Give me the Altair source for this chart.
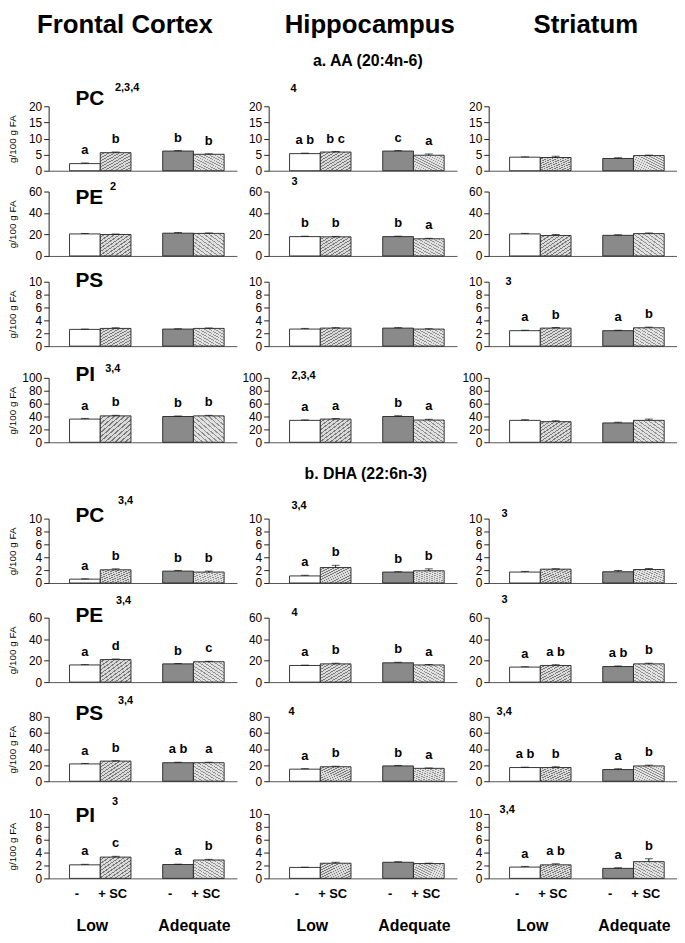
import altair as alt
import pandas as pd

FONT = "Liberation Sans"

regions = ["Frontal Cortex", "Hippocampus", "Striatum"]
groups = ["Low", "Adequate"]
treatments = ["-", "+ SC"]
bar_ids = ["b1", "b2", "b3", "b4"]
section_titles = ["a. AA (20:4n-6)", "b. DHA (22:6n-3)"]
lipids = ["PC", "PE", "PS", "PI", "PC", "PE", "PS", "PI"]
y_max = [20, 60, 10, 100, 10, 60, 80, 10]
y_ticks = [
    [0, 5, 10, 15, 20],
    [0, 20, 40, 60],
    [0, 2, 4, 6, 8, 10],
    [0, 20, 40, 60, 80, 100],
    [0, 2, 4, 6, 8, 10],
    [0, 20, 40, 60],
    [0, 20, 40, 60, 80],
    [0, 2, 4, 6, 8, 10],
]

# means per row: [Frontal Cortex, Hippocampus, Striatum], each [Low -, Low +SC, Adequate -, Adequate +SC]
aa_pc = [[2.2, 5.6, 6.1, 5.1], [5.3, 5.8, 6.1, 4.8], [4.2, 4.1, 3.8, 4.7]]
aa_pe = [[20.5, 20.0, 21.2, 21.0], [18.0, 17.8, 18.0, 16.0], [20.5, 19.0, 19.2, 20.8]]
aa_ps = [[2.6, 2.75, 2.65, 2.75], [2.65, 2.8, 2.8, 2.65], [2.4, 2.8, 2.4, 2.85]]
aa_pi = [[36, 41, 40, 41], [34, 36, 40, 34.5], [34, 32, 30, 34]]
dha_pc = [[0.6, 2.05, 1.85, 1.7], [1.1, 2.4, 1.7, 1.9], [1.7, 2.15, 1.75, 2.1]]
dha_pe = [[16, 21, 17, 19], [15.5, 17, 18, 16], [14, 15.5, 14.5, 17]]
dha_ps = [[21.5, 25, 23, 23], [15, 18, 19, 16], [17, 17, 14.5, 19]]
dha_pi = [[2.1, 3.3, 2.15, 2.85], [1.7, 2.35, 2.5, 2.3], [1.75, 2.1, 1.55, 2.6]]
means = [aa_pc, aa_pe, aa_ps, aa_pi, dha_pc, dha_pe, dha_ps, dha_pi]

aa_pc_se = [[0.2, 0.2, 0.15, 0.15], [0.15, 0.15, 0.15, 0.4], [0.1, 0.4, 0.2, 0.15]]
aa_pe_se = [[0.4, 0.4, 0.6, 0.4], [0.4, 0.4, 0.4, 0.4], [0.5, 1.0, 0.5, 0.6]]
aa_ps_se = [[0.05, 0.1, 0.05, 0.07], [0.1, 0.07, 0.07, 0.05], [0.07, 0.1, 0.07, 0.1]]
aa_pi_se = [[1, 0.8, 0.8, 0.8], [0.8, 0.8, 1.2, 1.2], [1, 1.5, 1, 2]]
dha_pc_se = [[0.05, 0.15, 0.1, 0.15], [0.1, 0.35, 0.05, 0.3], [0.1, 0.05, 0.2, 0.15]]
dha_pe_se = [[0.3, 0.5, 0.3, 0.4], [0.3, 0.6, 0.5, 0.4], [0.3, 0.8, 0.6, 0.6]]
dha_ps_se = [[0.6, 0.5, 0.6, 0.6], [0.6, 0.6, 0.6, 0.5], [0.5, 1.0, 1.0, 1.0]]
dha_pi_se = [[0.08, 0.12, 0.06, 0.1], [0.03, 0.15, 0.08, 0.06], [0.1, 0.15, 0.08, 0.45]]
sems = [aa_pc_se, aa_pe_se, aa_ps_se, aa_pi_se, dha_pc_se, dha_pe_se, dha_ps_se, dha_pi_se]

NONE4 = ["", "", "", ""]
letters = [
    [["a", "b", "b", "b"], ["a b", "b c", "c", "a"], NONE4],
    [NONE4, ["b", "b", "b", "a"], NONE4],
    [NONE4, NONE4, ["a", "b", "a", "b"]],
    [["a", "b", "b", "b"], ["a", "a", "b", "a"], NONE4],
    [["a", "b", "b", "b"], ["a", "b", "b", "b"], NONE4],
    [["a", "d", "b", "c"], ["a", "b", "b", "a"], ["a", "a b", "a b", "b"]],
    [["a", "b", "a b", "a"], ["a", "b", "b", "a"], ["a b", "b", "a", "b"]],
    [["a", "c", "a", "b"], NONE4, ["a", "a b", "a", "b"]],
]

superscripts = [
    ["2,3,4", "4", ""],
    ["2", "3", ""],
    ["", "", "3"],
    ["3,4", "2,3,4", ""],
    ["3,4", "3,4", "3"],
    ["3,4", "4", "3"],
    ["3,4", "4", "3,4"],
    ["3", "", "3,4"],
]

# ---- layout / style (pixels) ----
W, H = 190, 65
COL_GAP = 32
gaps = [21, 26, 32, 77, 35, 35, 33]
label_base = [-1, 13, 5, 3, 3, 4, 3, 8]
sup_pos = [
    [(67, -15), (22, -14), None],
    [(62, -2), (23, -7), None],
    [None, None, (17, 3)],
    [(57, -6), (23, 1), None],
    [(70, -15), (23, -10), (13, -2)],
    [(68, -14), (23, -2), (13, -15)],
    [(70, -13), (20, -2), (8, -2)],
    [(64, -9), None, (11, -1)],
]


def stripes(light, dark, n, frac_dark, x1, y1, x2, y2):
    stops = []
    for i in range(n):
        a = i / n
        b = (i + 1 - frac_dark) / n
        e = (i + 1) / n
        stops += [alt.GradientStop(offset=a, color=light), alt.GradientStop(offset=b, color=light),
                  alt.GradientStop(offset=b, color=dark), alt.GradientStop(offset=e, color=dark)]
    return alt.LinearGradient(gradient="linear", stops=stops, x1=x1, y1=y1, x2=x2, y2=y2)


bar_fill = [
    "#ffffff",
    stripes("#dadada", "#7a7a7a", 12, 0.33, 0, 0, 1, 1),
    "#8a8a8a",
    stripes("#e2e2e2", "#929292", 12, 0.3, 0, 1, 1, 0),
]

records = []
for r in range(8):
    for c in range(3):
        for k in range(4):
            records.append(dict(
                row=r, region=regions[c], group=groups[k // 2], treat=treatments[k % 2],
                bar=bar_ids[k], value=means[r][c][k], top=means[r][c][k] + sems[r][c][k],
                letter=letters[r][c][k]))
df = pd.DataFrame(records)


def txt(text, x, y, size, weight="bold", align="left", baseline="alphabetic", dx=0):
    return alt.Chart(pd.DataFrame({"t": [text]})).mark_text(
        font=FONT, fontSize=size, fontWeight=weight, align=align, baseline=baseline,
        color="black", dx=dx
    ).encode(text="t:N", x=alt.value(x), y=alt.value(y))


x_enc = alt.X("group:N", title=None,
              scale=alt.Scale(domain=groups, paddingInner=0.3404, paddingOuter=0.1809, align=0.62),
              axis=alt.Axis(labels=False, ticks=False, grid=False, domainColor="#555555", domainWidth=1))
xo_enc = alt.XOffset("treat:N", scale=alt.Scale(domain=treatments, paddingInner=0, paddingOuter=0))


def panel(r, c):
    sub = df[(df.row == r) & (df.region == regions[c])]
    base = alt.Chart(sub)
    axis = alt.Axis(values=y_ticks[r], tickCount=len(y_ticks[r]), grid=False,
                    domainColor="#222222", tickColor="#222222",
                    labelFontSize=12, labelColor="black", labelFont=FONT, tickSize=5,
                    labelPadding=2, minExtent=28, maxExtent=28, labelOverlap=False,
                    labelFlush=False, labelBaseline="middle",
                    titleFontSize=10, titleFontWeight="normal", titleFont=FONT,
                    titlePadding=3, titleColor="black")
    ttl = "g/100 g FA" if c == 0 else None
    yscale = alt.Scale(domain=[0, y_max[r]], nice=False, zero=True)
    y_val = alt.Y("value:Q", title=ttl, scale=yscale, axis=axis)
    y_top = alt.Y("top:Q", title=ttl, scale=yscale, axis=axis)
    layers = []
    for k, bid in enumerate(bar_ids):
        layers.append(base.transform_filter(alt.datum.bar == bid).mark_bar(
            stroke="#222222", strokeWidth=0.9, fill=bar_fill[k]
        ).encode(x=x_enc, xOffset=xo_enc, y=y_val))
    rules = base.mark_rule(color="#111111", strokeWidth=1).encode(
        x=x_enc, xOffset=xo_enc, y=y_val, y2="top:Q")
    caps = base.mark_tick(orient="horizontal", size=8, thickness=1, color="#111111").encode(
        x=x_enc, xOffset=xo_enc, y=y_top)
    lets = base.mark_text(font=FONT, fontSize=13, fontWeight="bold", baseline="alphabetic",
                          dy=-9, color="black").encode(
        x=x_enc, xOffset=xo_enc, y=y_top, text="letter:N")
    layers += [rules, caps, lets]
    if c == 0:
        layers.append(txt(lipids[r], 27, label_base[r], 21))
    if superscripts[r][c]:
        sx, sy = sup_pos[r][c]
        layers.append(txt(superscripts[r][c], sx, sy, 11))
    if r == 7:
        foot = pd.DataFrame({"group": [g for g in groups for _ in treatments],
                             "treat": [t for _ in groups for t in treatments]})
        fb = alt.Chart(foot)
        layers.append(fb.transform_filter(alt.datum.treat == "-").mark_text(
            font=FONT, fontSize=13, fontWeight="bold", baseline="middle", dx=-8, color="black"
        ).encode(x=x_enc, xOffset=xo_enc, y=alt.value(81), text="treat:N"))
        layers.append(fb.transform_filter(alt.datum.treat == "+ SC").mark_text(
            font=FONT, fontSize=13, fontWeight="bold", baseline="middle", dx=-3, color="black"
        ).encode(x=x_enc, xOffset=xo_enc, y=alt.value(81), text="treat:N"))
        gl = pd.DataFrame({"group": groups})
        layers.append(alt.Chart(gl[gl.group == "Low"]).mark_text(
            font=FONT, fontSize=16, fontWeight="bold", baseline="middle", dx=-8, color="black"
        ).encode(x=x_enc, y=alt.value(113), text="group:N"))
        layers.append(alt.Chart(gl[gl.group == "Adequate"]).mark_text(
            font=FONT, fontSize=16, fontWeight="bold", baseline="middle", dx=1, color="black"
        ).encode(x=x_enc, y=alt.value(113), text="group:N"))
    return alt.layer(*layers).properties(width=W, height=H)


def cell(h, texts):
    if not texts:
        texts = [txt("", 0, 0, 10)]
    return alt.layer(*texts).properties(width=W, height=h)


cells = []
# header row: column titles, section a title in the middle column
cells.append(cell(95, [txt(regions[0], 77, 13, 26, align="center", baseline="middle")]))
cells.append(cell(95, [txt(regions[1], 102, 13, 26, align="center", baseline="middle"),
                       txt(section_titles[0], 100, 49, 16, align="center", baseline="middle")]))
cells.append(cell(95, [txt(regions[2], 98, 13, 26, align="center", baseline="middle")]))

for r in range(8):
    for c in range(3):
        cells.append(panel(r, c))
    if r < 7:
        for c in range(3):
            if r == 3 and c == 1:
                cells.append(cell(gaps[r], [txt(section_titles[1], 98, 32, 16, align="center",
                                                baseline="middle")]))
            else:
                cells.append(cell(gaps[r], []))

chart = alt.concat(*cells, columns=3, spacing={"row": 0, "column": COL_GAP},
                   bounds="flush", align="each").properties(
    padding={"left": 0, "top": 0, "right": 0, "bottom": 0}
).configure(font=FONT).configure_view(stroke=None)

chart.save("out.html", embed_options={"renderer": "svg", "actions": False})
